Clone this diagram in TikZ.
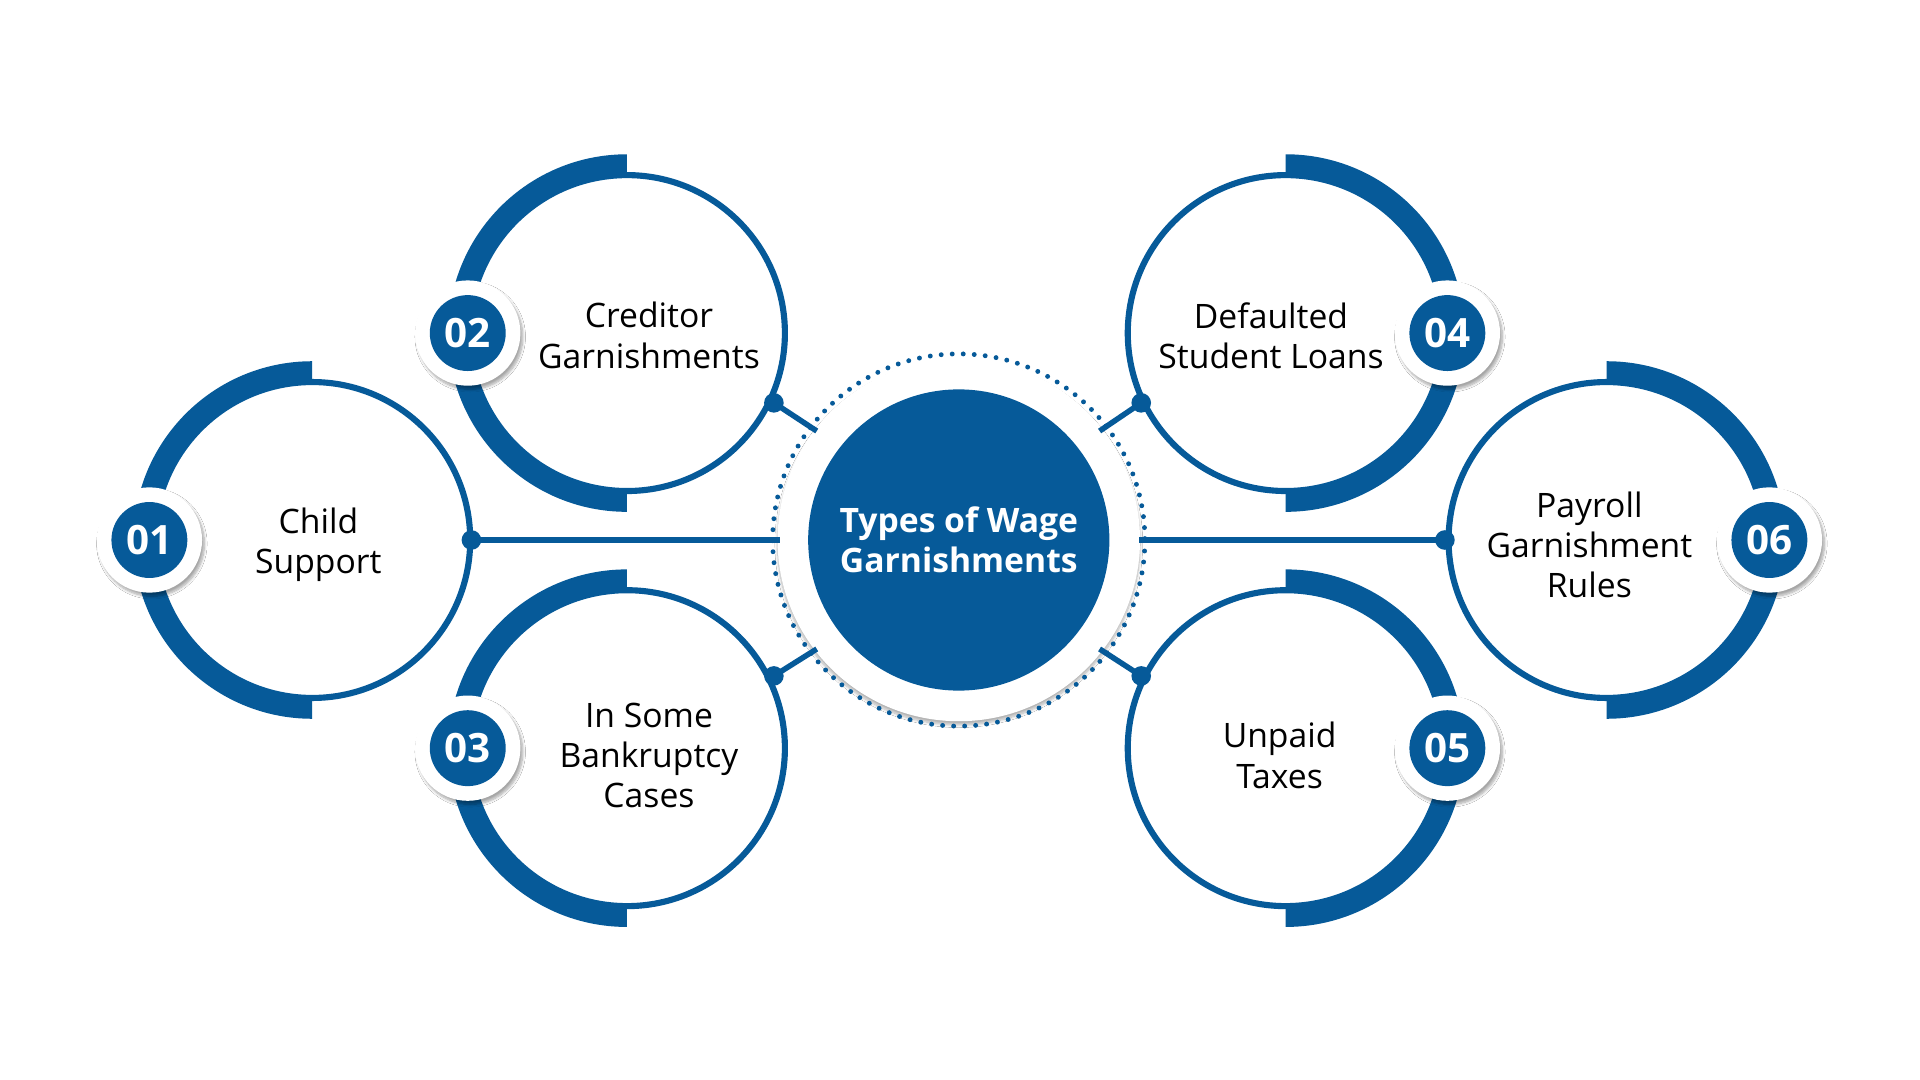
\documentclass[tikz,border=0pt]{standalone}
\usepackage{fontspec}
\setmainfont{Open Sans}
\usetikzlibrary{shadows.blur}
\definecolor{wb}{HTML}{065A99}
\begin{document}
\begin{tikzpicture}[x=1pt,y=-1pt,
  ring/.style={draw=wb,line width=5pt,circle,minimum size=258pt,inner sep=0pt},
  lbl/.style={align=center,font=\fontsize{27.5}{33}\selectfont,text=black},
  badgeo/.style={circle,fill=white,minimum size=86pt,blur shadow={shadow blur steps=8,shadow xshift=2pt,shadow yshift=-3pt,shadow opacity=35}},
  badgei/.style={circle,fill=wb,minimum size=62pt,text=white,font=\fontsize{33}{33}\selectfont\bfseries},
  dotn/.style={circle,fill=wb,minimum size=16pt,inner sep=0pt},
  conn/.style={draw=wb,line width=4.5pt}]
\useasboundingbox (0,0) rectangle (1568,882);
\fill[white] (0,0) rectangle (1568,882);
\node[circle,fill=white,minimum size=296pt,blur shadow={shadow blur steps=10,shadow xshift=0pt,shadow yshift=-3pt,shadow opacity=30}] (cw) at (783,441) {};
\draw[wb,line width=4pt,dash pattern=on 0pt off 9pt,line cap=round] (783,441) circle (152);
\node[circle,fill=wb,minimum size=246pt,text=white,align=center,font=\fontsize{27.5}{33}\selectfont\bfseries] (c) at (783,441) {Types of Wage\\Garnishments};
\foreach \n/\x/\y/\s in {a/255/441/-1, b/512/272/-1, d/512/611/-1, e/1050/272/1, f/1050/611/1, g/1312/441/1}{
  \node[ring] (\n) at (\x,\y) {};
  \ifnum\s<0
    \fill[wb] (\x,\y-146) arc[start angle=270,end angle=90,radius=146] -- (\x,\y+129) arc[start angle=90,end angle=270,radius=129] -- cycle;
  \else
    \fill[wb] (\x,\y-146) arc[start angle=270,end angle=450,radius=146] -- (\x,\y+129) arc[start angle=90,end angle=-90,radius=129] -- cycle;
  \fi
}
\node[lbl] (ta) at (260,445) {Child\\Support};
\node[lbl] (tb) at (530,274) {Creditor\\Garnishments};
\node[lbl] (td) at (530,617) {In Some\\Bankruptcy\\Cases};
\node[lbl] (te) at (1038,274) {Defaulted\\Student Loans};
\node[lbl] (tf) at (1045,617) {Unpaid\\Taxes};
\node[lbl] (tg) at (1298,445) {Payroll\\Garnishment\\Rules};
\foreach \n/\x/\y/\t in {1/122/441/01,2/382/272/02,3/382/611/03,4/1182/272/04,5/1182/611/05,6/1445/441/06}{
  \node[badgeo] (bo\n) at (\x,\y) {};
  \node[badgei] (bi\n) at (\x,\y) {\t};
}
\coordinate (pa) at (385,441); \coordinate (ca) at (637,441);
\coordinate (pg) at (1180,441); \coordinate (cg) at (930,441);
\coordinate (pb) at (632,329); \coordinate (cb) at (667,352);
\coordinate (pe) at (932,329); \coordinate (ce) at (898,352);
\coordinate (pd) at (632,552); \coordinate (cd) at (667,530);
\coordinate (pf) at (932,552); \coordinate (cf) at (898,530);
\foreach \p in {a,g,b,e,d,f}{
  \draw[conn] (p\p) -- (c\p);
  \node[dotn] (dot\p) at (p\p) {};
}
\end{tikzpicture}
\end{document}
